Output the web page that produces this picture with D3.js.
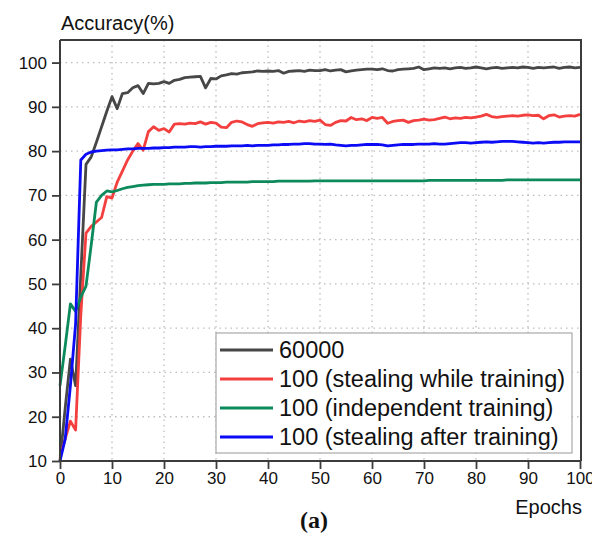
<!DOCTYPE html>
<html>
<head>
<meta charset="utf-8">
<script src="https://cdn.jsdelivr.net/npm/d3@7"></script>
<style>
  body { margin: 0; background: #fff; }
  svg { display: block; font-family: "Liberation Sans", Arial, sans-serif; }
</style>
</head>
<body>
<svg></svg>
<script>
// accuracy curves per epoch (0..100)

const epochs = d3.range(0, 101)

const acc60000 = [10, 22, 33, 27, 52, 77, 78.7, 82, 85.5, 89, 92.3, 89.6, 93, 93.2, 94.3, 94.8, 93, 95.3, 95.2, 95.3,
  95.7, 95.3, 96, 96.2, 96.6, 96.7, 96.8, 96.9, 94.3, 96.4, 96.3, 97, 97.2, 97.5, 97.4, 97.7, 97.8, 97.9, 98.1, 98,
  98.1, 98, 98.2, 97.6, 98, 98.1, 98.2, 98, 98.3, 98.2, 98.2, 98.4, 98.1, 98.3, 98.4, 97.9, 98.1, 98.3, 98.4, 98.5,
  98.5, 98.4, 98.6, 98.2, 98.1, 98.4, 98.5, 98.6, 98.7, 99, 98.4, 98.6, 98.8, 98.7, 98.8, 98.6, 98.8, 98.9, 98.7, 98.8,
  99, 98.8, 98.6, 98.8, 98.9, 98.7, 98.8, 98.9, 98.8, 99, 98.9, 98.7, 98.9, 98.8, 98.9, 99, 98.7, 98.9, 99, 98.8, 98.9]

const accStealWhile = [11, 15, 19, 17, 43, 61.5, 63, 64, 65, 69.7, 69.4, 73, 75.5, 78, 80, 81.7, 80.2, 84.4, 85.5, 84.7,
  85.1, 84.3, 86.1, 86.2, 86.1, 86.3, 86.2, 86.6, 86.1, 86.5, 86.3, 85.4, 85.3, 86.5, 86.8, 86.6, 86, 85.6, 86.2, 86.4,
  86.5, 86.3, 86.6, 86.5, 86.7, 86.4, 86.8, 86.6, 86.9, 86.7, 87, 86, 85.8, 86.5, 86.9, 86.8, 87.6, 87.1, 87.3, 86.9,
  87.6, 87.4, 87.6, 86.3, 86.7, 86.9, 87, 86.5, 86.9, 87, 87.2, 87, 87.1, 87.4, 87.7, 87.3, 87.5, 87.4, 87.6, 87.5,
  87.7, 87.9, 88.3, 87.8, 87.6, 87.8, 87.9, 88, 87.9, 88.1, 88.2, 88, 88.1, 87.3, 88, 88.2, 87.7, 87.9, 88, 87.9, 88.3]

const accIndependent = [27, 36, 45.5, 43.8, 47, 49.5, 58.8, 68.5, 70, 71, 70.8, 71.1, 71.5, 71.8, 72, 72.2, 72.3, 72.4, 72.5, 72.5,
  72.5, 72.6, 72.6, 72.6, 72.7, 72.7, 72.8, 72.8, 72.8, 72.9, 72.9, 72.9, 73, 73, 73, 73, 73, 73.1, 73.1, 73.1,
  73.1, 73.1, 73.2, 73.2, 73.2, 73.2, 73.2, 73.2, 73.2, 73.3, 73.3, 73.3, 73.3, 73.3, 73.3, 73.3, 73.3, 73.3, 73.3, 73.3,
  73.3, 73.3, 73.3, 73.3, 73.3, 73.3, 73.3, 73.3, 73.3, 73.3, 73.3, 73.4, 73.4, 73.4, 73.4, 73.4, 73.4, 73.4, 73.4, 73.4,
  73.4, 73.4, 73.4, 73.4, 73.4, 73.4, 73.5, 73.5, 73.5, 73.5, 73.5, 73.5, 73.5, 73.5, 73.5, 73.5, 73.5, 73.5, 73.5, 73.5, 73.5]

const accStealAfter = [10, 15, 27, 41, 78, 79.3, 79.8, 80, 80.1, 80.2, 80.3, 80.3, 80.4, 80.5, 80.5, 80.6, 80.6, 80.6, 80.7, 80.7,
  80.8, 80.8, 80.9, 80.9, 80.9, 81, 81, 80.9, 81, 81, 81.1, 81.1, 81.1, 81.2, 81.2, 81.2, 81.3, 81.2, 81.3, 81.3,
  81.3, 81.4, 81.4, 81.5, 81.5, 81.6, 81.6, 81.7, 81.7, 81.6, 81.6, 81.5, 81.6, 81.4, 81.3, 81.2, 81.3, 81.3, 81.4, 81.5,
  81.5, 81.5, 81.4, 81.2, 81.3, 81.4, 81.5, 81.5, 81.5, 81.6, 81.6, 81.6, 81.7, 81.6, 81.6, 81.7, 81.8, 81.9, 81.9, 81.8,
  81.9, 82, 82.1, 82, 82.1, 82.2, 82.2, 82.2, 82.1, 82, 81.9, 81.8, 81.9, 81.8, 81.9, 82, 82, 82.1, 82.1, 82.1, 82.1]

const seriesNames = ["60000", "100 (stealing while training)", "100 (independent training)", "100 (stealing after training)"]
const seriesColours = ["#474747", "#f43f3f", "#0c8a5c", "#0b0bf5"]
const seriesValues = [acc60000, accStealWhile, accIndependent, accStealAfter]

const xTicks = d3.range(0, 101, 10)
const yTicks = d3.range(10, 101, 10)

///////////////// Constants /////////////////
const width = 592
const height = 535
const plotLeft = 60, plotRight = 580, plotTop = 40, plotBottom = 461
const frameColour = "#3c3c3c"
const gridColour = "#bdbdbd"

const svg = d3.select("svg").attr("width", width).attr("height", height)

const x = d3.scaleLinear().domain([0, 100]).range([plotLeft, plotRight])
const y = d3.scaleLinear().domain([10, 105.1]).range([plotBottom, plotTop])

// dotted grid
const grid = svg.append("g")
  .attr("stroke", gridColour)
  .attr("stroke-width", 1.3)
  .attr("stroke-dasharray", "1.5 4")
grid.selectAll(".vgrid")
  .data(xTicks.filter(d => d > 0 && d < 100))
  .join("line")
    .attr("x1", d => x(d)).attr("x2", d => x(d))
    .attr("y1", plotTop).attr("y2", plotBottom)
grid.selectAll(".hgrid")
  .data(yTicks.filter(d => d > 10))
  .join("line")
    .attr("x1", plotLeft).attr("x2", plotRight)
    .attr("y1", d => y(d)).attr("y2", d => y(d))

// curves
const line = d3.line()
  .x((d, i) => x(epochs[i]))
  .y(d => y(d))

svg.append("g")
  .selectAll("path")
  .data(seriesValues)
  .join("path")
    .attr("fill", "none")
    .attr("stroke", (d, i) => seriesColours[i])
    .attr("stroke-width", 2.8)
    .attr("stroke-linejoin", "round")
    .attr("d", line)

// frame: top and right edges
svg.append("path")
  .attr("fill", "none")
  .attr("stroke", frameColour)
  .attr("stroke-width", 2)
  .attr("d", `M${plotLeft},${plotTop}H${x(100) + 1}V${plotBottom}`)

// axes
const xAxis = svg.append("g")
  .attr("transform", `translate(0,${plotBottom})`)
  .call(d3.axisBottom(x).tickValues(xTicks).tickSize(8).tickPadding(3))
const yAxis = svg.append("g")
  .attr("transform", `translate(${plotLeft},0)`)
  .call(d3.axisLeft(y).tickValues(yTicks).tickSize(8).tickPadding(5))

;[xAxis, yAxis].forEach(a => {
  a.select(".domain").attr("stroke", frameColour).attr("stroke-width", 2)
  a.selectAll(".tick line").attr("stroke", frameColour).attr("stroke-width", 1.8)
  a.selectAll(".tick text")
    .attr("fill", "#111")
    .style("font-size", "17px")
    .style("font-family", '"Liberation Sans", Arial, sans-serif')
})
yAxis.select(".domain").attr("d", `M0,${plotTop}V${plotBottom}`)
xAxis.select(".domain").attr("d", `M${plotLeft},0H${x(100) + 1}`)

// axis titles
svg.append("text")
  .attr("x", 61).attr("y", 30)
  .style("font-size", "20px")
  .attr("fill", "#111")
  .text("Accuracy(%)")

svg.append("text")
  .attr("x", 582).attr("y", 514)
  .attr("text-anchor", "end")
  .style("font-size", "20px")
  .attr("fill", "#111")
  .text("Epochs")

svg.append("text")
  .attr("x", 314).attr("y", 528)
  .attr("text-anchor", "middle")
  .style("font-family", '"Liberation Serif", "Times New Roman", serif')
  .style("font-weight", "bold")
  .style("font-size", "24px")
  .attr("fill", "#111")
  .text("(a)")

// legend
const legend = svg.append("g").attr("transform", "translate(216,333)")
legend.append("rect")
  .attr("width", 356).attr("height", 120)
  .attr("fill", "#fff")
  .attr("stroke", "#a9a9a9")
  .attr("stroke-width", 1.2)

const legendRow = legend.selectAll(".legend-row")
  .data(seriesNames)
  .join("g")
  .classed("legend-row", true)
    .attr("transform", (d, i) => `translate(0,${17 + i * 29})`)

legendRow.append("line")
  .attr("x1", 4).attr("x2", 57)
  .attr("stroke", (d, i) => seriesColours[i])
  .attr("stroke-width", 2.8)

legendRow.append("text")
  .attr("x", 63)
  .attr("dy", "0.36em")
  .style("font-size", "23.5px")
  .attr("fill", "#111")
  .text(d => d)
</script>
</body>
</html>
